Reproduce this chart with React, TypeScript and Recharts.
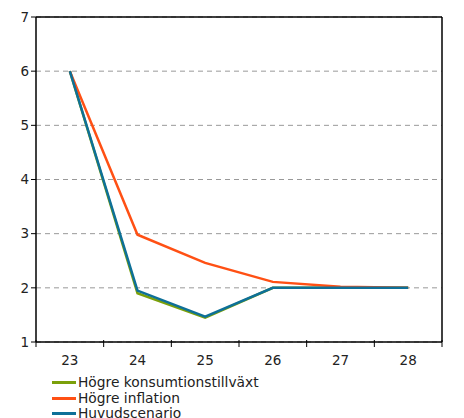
import React from "react";
import {
  LineChart,
  Line,
  XAxis,
  YAxis,
  CartesianGrid,
  Legend,
  ReferenceLine,
} from "recharts";

const years = ["23", "24", "25", "26", "27", "28"];
const consumption = [6.0, 1.9, 1.45, 2.0, 2.0, 2.0];
const inflation = [6.0, 2.98, 2.46, 2.11, 2.02, 2.0];
const mainScenario = [6.0, 1.95, 1.47, 2.0, 2.0, 2.0];
const yTicks = [1, 2, 3, 4, 5, 6, 7];

const series = [
  { key: "consumption", name: "Högre konsumtionstillväxt", color: "#7ba00a" },
  { key: "inflation", name: "Högre inflation", color: "#ff5014" },
  { key: "main", name: "Huvudscenario", color: "#0e7098" },
];

const data = years.map((year, i) => ({
  year,
  consumption: consumption[i],
  inflation: inflation[i],
  main: mainScenario[i],
}));

const W = 464;
const LEFT = 36;
const RIGHT = 22;
const halfBand = (W - LEFT - RIGHT) / years.length / 2;

const font = "'DejaVu Sans', Verdana, sans-serif";
const tick = { fill: "#222", fontSize: 13.5, fontFamily: font };

// category label in the band centre, tick marks on the band edges
function YearTick(props: any) {
  const { x, y, payload, index, visibleTicksCount } = props;
  const top = y - 4;
  return (
    <g>
      <line x1={x - halfBand} x2={x - halfBand} y1={top - 4} y2={top + 3} stroke="#000" />
      {index === visibleTicksCount - 1 && (
        <line x1={x + halfBand} x2={x + halfBand} y1={top - 4} y2={top + 3} stroke="#000" />
      )}
      <text x={x} y={top + 21} textAnchor="middle" {...tick}>
        {payload.value}
      </text>
    </g>
  );
}

function LegendBox() {
  return (
    <div style={{ paddingTop: 9, paddingLeft: 52, fontFamily: font, fontSize: 13.8, color: "#222" }}>
      {series.map((s) => (
        <div key={s.key} style={{ display: "flex", alignItems: "center", height: 15.5, lineHeight: "15px" }}>
          <span style={{ display: "inline-block", width: 24, height: 3, background: s.color, marginRight: 2 }} />
          <span>{s.name}</span>
        </div>
      ))}
    </div>
  );
}

export default function App() {
  return (
    <div style={{ position: "absolute", left: 0, top: 0 }}>
      <LineChart
        width={W}
        height={418}
        data={data}
        margin={{ top: 17, right: 0, bottom: 4, left: 0 }}
      >
        <CartesianGrid
          yAxisId="left"
          horizontal
          vertical={false}
          stroke="#999"
          strokeDasharray="5 4"
        />
        <XAxis
          dataKey="year"
          tick={<YearTick />}
          tickLine={false}
          tickSize={4}
          axisLine={{ stroke: "#000", strokeWidth: 1.5 }}
          height={24}
          interval={0}
          padding={{ left: halfBand, right: halfBand }}
        />
        <YAxis
          yAxisId="left"
          domain={[1, 7]}
          ticks={yTicks}
          width={LEFT}
          tick={tick}
          tickSize={5}
          tickLine={{ stroke: "#000" }}
          axisLine={{ stroke: "#000", strokeWidth: 1.5 }}
        />
        <YAxis
          yAxisId="right"
          orientation="right"
          domain={[1, 7]}
          ticks={yTicks}
          width={RIGHT}
          tick={tick}
          tickSize={5}
          tickLine={{ stroke: "#000" }}
          axisLine={{ stroke: "#000", strokeWidth: 1.5 }}
        />
        <ReferenceLine yAxisId="left" y={7} stroke="#000" strokeWidth={1.5} />
        <Legend verticalAlign="bottom" align="left" height={48} content={<LegendBox />} />
        {series.map((s) => (
          <Line
            key={s.key}
            yAxisId="left"
            dataKey={s.key}
            name={s.name}
            stroke={s.color}
            strokeWidth={2.5}
            dot={false}
            type="linear"
            isAnimationActive={false}
          />
        ))}
      </LineChart>
    </div>
  );
}
